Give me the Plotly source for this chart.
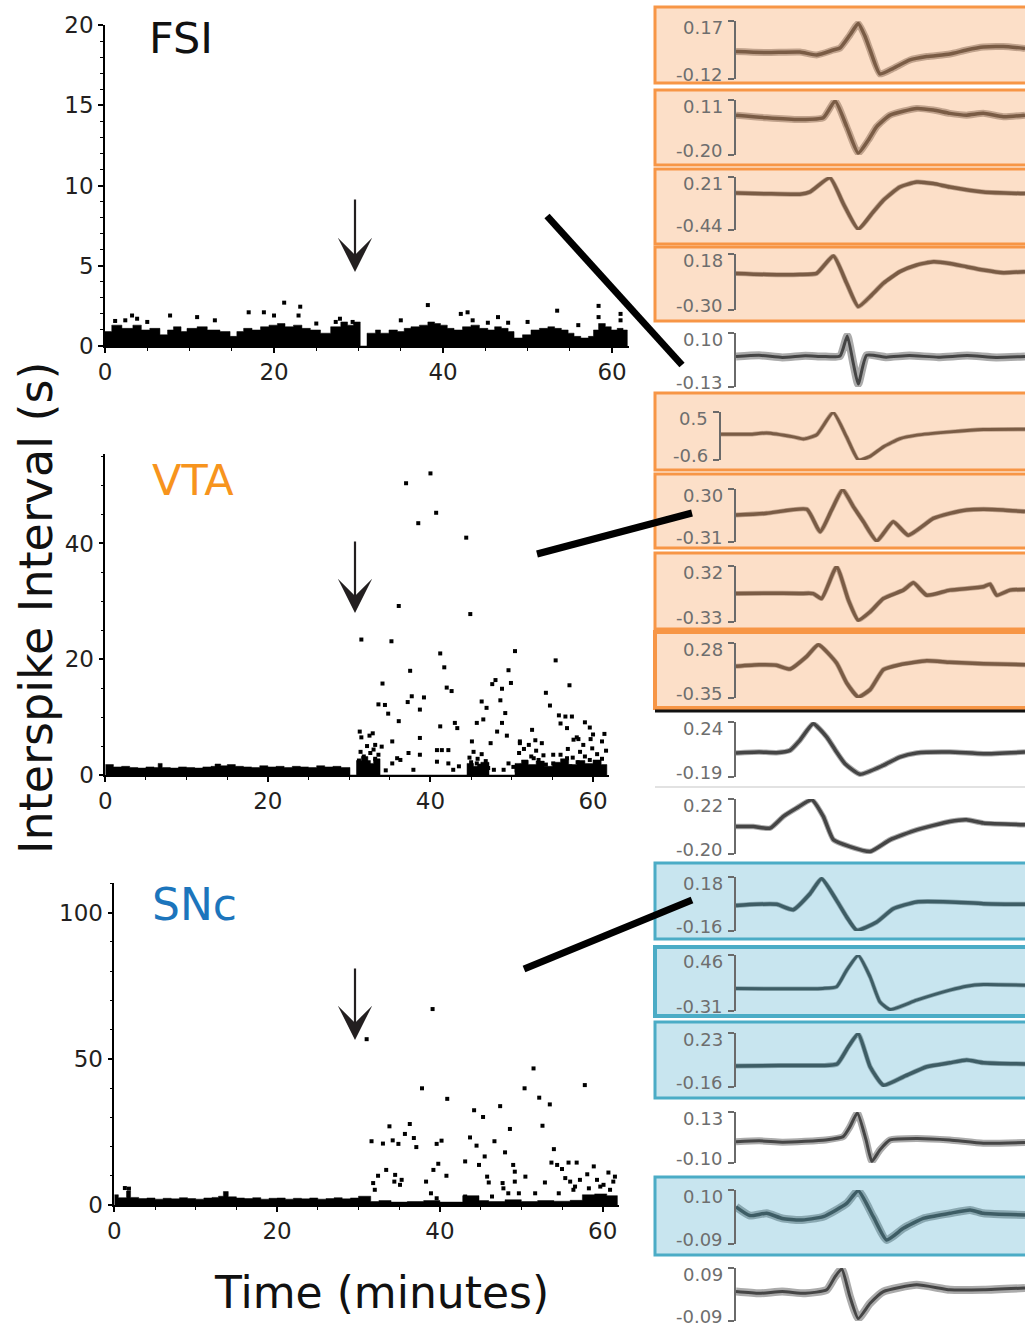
import plotly.graph_objects as go

W, H = 1025, 1328

# ------------------------------------------------------------------
# Interspike-interval data (time in minutes, ISI in seconds)
# ------------------------------------------------------------------
# FSI: dense band (upper envelope) + outlying spikes
FSI_BAND_MIN = [0, 0.8, 2.0, 3.3, 4.3, 5.3, 6.5, 7.4, 8.1, 9.0,
                9.7, 10.9, 12.1, 13.6, 14.8, 15.6, 16.4, 17.4, 18.4, 19.4,
                20.4, 21.3, 22.3, 23.3, 24.3, 25.5, 26.7, 27.9, 28.7, 29.4,
                30.2, 31.0, 32.0, 32.6, 33.6, 34.6, 35.4, 36.2, 37.2, 38.2,
                39.0, 39.7, 40.5, 41.3, 42.3, 43.3, 44.3, 45.3, 46.1, 46.9,
                47.7, 48.4, 49.4, 50.4, 51.4, 52.4, 53.2, 54.0, 54.8, 55.5,
                56.3, 57.2, 57.8, 58.4, 59.2, 59.9, 60.6, 61.3, 61.8]
FSI_BAND_ISI = [0.9, 1.3, 1.1, 1.3, 1.0, 1.1, 0.7, 1.0, 1.2, 0.9,
                1.1, 1.2, 1.0, 0.9, 0.6, 0.9, 1.1, 1.0, 1.2, 1.3,
                1.4, 1.2, 1.3, 1.1, 1.0, 0.8, 1.2, 1.5, 1.3, 1.5,
                0.0, 0.8, 1.0, 0.8, 1.0, 0.9, 1.1, 1.2, 1.3, 1.5,
                1.4, 1.3, 1.1, 1.0, 1.2, 1.3, 1.1, 1.0, 1.2, 1.1,
                0.9, 0.5, 0.7, 1.0, 1.1, 1.2, 1.1, 1.0, 0.8, 0.6,
                0.5, 0.6, 1.0, 1.4, 1.2, 1.0, 1.1, 1.0, 0.0]
FSI_DOT_MIN = [1.2, 2.4, 3.2, 3.8, 7.7, 10.9, 17.0, 18.8, 20.0, 21.2,
               22.9, 23.1, 27.3, 27.8, 29.3, 38.2, 42.1, 42.9, 43.5, 45.3,
               46.5, 47.7, 53.5, 58.4, 58.4, 61.0, 61.0, 5.0, 13.0, 25.0,
               35.0, 50.0, 56.0]
FSI_DOT_ISI = [1.56, 1.6, 1.9, 1.7, 1.9, 1.8, 2.1, 2.1, 1.9, 2.7,
               1.9, 2.45, 1.5, 1.7, 1.5, 2.55, 2.0, 2.1, 1.6, 1.45,
               1.8, 1.45, 2.2, 2.5, 1.8, 2.0, 1.6, 1.5, 1.6, 1.4,
               1.6, 1.5, 1.3]

# VTA
VTA_BAND_MIN = [0, 1, 2, 3, 4, 5, 6, 6.5, 7, 8,
                9, 10, 11, 12, 13, 13.5, 14.2, 15, 16, 17,
                18, 19, 20, 21, 22, 23, 24, 25, 26, 27,
                28, 29, 30.1, 30.9, 31.5, 32.3, 33.0, 33.8, 44.5, 45.3,
                46.2, 47.2, 50.4, 51.2, 52.0, 53.0, 54.0, 55.0, 56.0, 57.0,
                58, 59, 60, 61, 61.7]
VTA_BAND_ISI = [1.8, 1.4, 1.5, 1.3, 1.2, 1.4, 1.3, 2.0, 1.3, 1.2,
                1.4, 1.3, 1.2, 1.4, 1.5, 1.9, 1.6, 1.8, 1.5, 1.4,
                1.3, 1.6, 1.4, 1.5, 1.3, 1.5, 1.4, 1.3, 1.6, 1.4,
                1.5, 1.3, 0.0, 2.5, 3.2, 2.0, 2.8, 0.0, 2.0, 1.5,
                2.2, 0.0, 2.0, 2.6, 1.8, 2.4, 1.5, 2.2, 2.8, 1.8,
                2.5, 2.0, 2.6, 1.8, 0.0]
VTA_DOT_MIN = [31.1, 37.0, 40.0, 40.7, 38.5, 44.4, 36.1, 44.9, 31.5, 35.2,
               41.2, 50.4, 55.4, 41.7, 37.5, 49.6, 34.1, 48.0, 47.6, 48.8,
               49.9, 42.0, 42.6, 57.1, 54.2, 37.7, 39.2, 37.2, 33.6, 34.4,
               38.7, 46.3, 46.9, 48.6, 54.7, 34.8, 49.2, 55.8, 56.6, 57.4,
               36.1, 46.5, 45.7, 41.2, 43.0, 43.3, 48.8, 56.0, 59.0, 59.6,
               52.5, 56.8, 61.4, 38.7, 49.4, 48.2, 35.3, 33.2, 34.0, 47.4,
               45.1, 51.0, 52.1, 53.7, 57.6, 58.2, 58.8, 59.7, 61.1, 37.3,
               36.3, 38.7, 40.8, 41.4, 42.2, 40.8, 42.2, 42.8, 37.9, 35.3,
               35.9, 45.7, 47.8, 49.0, 50.2, 52.7, 55.1, 55.1, 56.8]
VTA_DOT_ISI = [55.7, 50.4, 52.1, 45.3, 43.5, 41.0, 29.2, 27.8, 23.4, 23.1,
               21.0, 21.4, 19.8, 18.6, 18.0, 18.1, 15.8, 16.4, 15.7, 14.9,
               15.9, 15.1, 14.5, 15.5, 14.2, 13.6, 13.4, 12.6, 12.2, 12.1,
               11.3, 12.7, 11.6, 12.9, 12.0, 10.6, 10.7, 10.3, 10.1, 10.1,
               9.3, 9.6, 9.0, 8.4, 9.0, 8.1, 9.0, 8.9, 9.1, 8.2,
               7.8, 8.1, 7.1, 6.4, 6.8, 7.5, 5.8, 5.2, 4.9, 5.5,
               5.8, 5.8, 5.2, 5.5, 6.1, 6.2, 5.2, 6.2, 5.8, 3.8,
               2.6, 3.5, 4.3, 4.3, 4.3, 2.3, 2.0, 0.9, 0.9, 2.0,
               2.9, 2.0, 0.9, 0.9, 1.4, 2.9, 3.5, 2.0, 2.9]
VTA_CLUSTER_MIN = [31.2, 31.4, 31.6, 31.8, 32.0, 32.2, 32.4, 32.6, 32.8, 33.0,
                   33.2, 33.4, 33.6, 31.5, 32.5, 31.3, 32.9, 44.8, 45.0, 45.3,
                   45.8, 46.0, 46.3, 46.8, 47.1, 50.6, 50.9, 51.2, 51.5, 51.8,
                   52.4, 53.0, 53.3, 53.9, 54.2, 51.0, 52.9, 56.0, 56.6, 56.9,
                   57.2, 57.5, 58.1, 58.4, 59.0, 59.6, 59.9, 60.2, 60.5, 61.1,
                   61.6, 58.0, 60.0, 34.5, 43.5, 49.6]
VTA_CLUSTER_ISI = [2.5, 4.0, 1.5, 3.2, 0.8, 5.0, 2.2, 3.8, 1.2, 4.4,
                   2.8, 0.6, 3.5, 6.5, 6.8, 7.5, 7.2, 3.0, 2.2, 4.0,
                   2.8, 1.6, 3.6, 2.4, 1.2, 0.8, 3.8, 1.6, 4.5, 2.2,
                   3.2, 4.2, 2.6, 3.4, 1.8, 5.5, 6.0, 3.5, 2.4, 4.5,
                   1.5, 3.0, 2.2, 4.0, 3.2, 2.6, 4.6, 1.4, 3.6, 2.8,
                   4.2, 6.5, 7.0, 0.8, 1.5, 2.0]

# SNc
SNC_BAND_MIN = [0, 0.5, 1.5, 2.0, 3, 4, 5, 6, 7, 8,
                9, 10, 11, 12, 12.8, 13.4, 14, 15, 16, 17,
                18, 19, 20, 21, 22, 23, 24, 25, 26, 27,
                28, 29, 30, 31.5, 32.5, 34, 36, 38, 40, 42.8,
                44.8, 46, 48, 50, 52, 54, 56, 57.5, 59, 60.5,
                61.8]
SNC_BAND_ISI = [3.5, 2.5, 4.8, 2.6, 2.2, 2.4, 2.0, 2.3, 2.1, 2.5,
                2.2, 2.0, 2.4, 2.6, 3.0, 4.6, 2.8, 2.4, 2.2, 2.5,
                2.0, 2.3, 2.4, 2.0, 2.3, 2.1, 2.4, 2.0, 2.2, 2.5,
                2.1, 2.4, 3.0, 1.2, 1.5, 1.0, 1.2, 1.5, 1.0, 3.2,
                1.5, 1.2, 1.8, 1.2, 1.5, 1.3, 1.6, 3.5, 3.8, 3.2,
                0.0]
SNC_DOT_MIN = [42.8, 39.1, 31.0, 51.5, 37.8, 50.4, 57.8, 40.9, 52.2, 53.5,
               47.4, 44.2, 45.3, 36.3, 33.8, 48.6, 52.6, 35.7, 43.7, 31.6,
               33.0, 34.2, 34.9, 36.8, 37.1, 39.6, 40.2, 46.7, 44.5, 54.0,
               48.0, 45.5, 43.1, 44.8, 39.8, 33.4, 39.2, 40.8, 32.4, 49.0,
               49.2, 53.7, 54.4, 55.0, 55.8, 56.8, 58.1, 58.9, 60.7, 61.5,
               50.5, 52.9, 49.2, 45.8, 46.0, 47.7, 47.8, 34.5, 34.4, 35.1,
               35.3, 31.8, 32.0, 38.3, 38.9, 39.6, 43.1, 46.4, 48.4, 49.7,
               51.7, 54.6, 55.4, 56.0, 56.6, 57.2, 58.3, 59.3, 60.1, 60.9,
               61.3, 59.7, 56.4, 1.3, 1.8]
SNC_DOT_ISI = [110.5, 67.0, 56.7, 46.7, 39.9, 39.9, 41.0, 36.3, 36.7, 34.4,
               33.8, 32.4, 30.1, 27.7, 26.9, 26.0, 27.1, 24.3, 23.1, 21.8,
               21.0, 22.1, 20.9, 22.9, 19.8, 20.9, 22.0, 21.8, 20.3, 19.1,
               18.0, 16.6, 14.9, 13.7, 14.1, 12.0, 12.0, 10.0, 10.0, 13.7,
               11.4, 14.5, 13.7, 12.3, 14.5, 14.5, 10.5, 13.2, 11.1, 9.7,
               9.7, 7.7, 8.0, 9.7, 7.7, 7.5, 5.7, 10.3, 8.0, 6.9,
               8.6, 7.5, 5.2, 8.0, 4.0, 2.3, 2.9, 2.9, 4.0, 4.0,
               4.0, 4.0, 9.2, 8.0, 6.3, 8.6, 5.7, 8.6, 6.9, 5.2,
               8.0, 6.3, 5.2, 5.8, 5.6]

# ------------------------------------------------------------------
# Spike waveforms (sample position 0-100, amplitude in scale units)
# ------------------------------------------------------------------
WAVE_01_X = [0, 10.6, 22.1, 27.9, 33.7, 36, 39.4, 42.3, 44.6, 46.4, 49.8, 54.4, 60.2, 66, 74, 79.8, 85.6, 92.5, 100]
WAVE_01_Y = [0.017, 0.012, 0.015, 0.0, 0.025, 0.035, 0.1, 0.158, 0.095, 0.025, -0.095, -0.067, -0.025, -0.008, 0.005, 0.025, 0.04, 0.042, 0.033]
WAVE_02_X = [0, 10.6, 22.1, 30.2, 34.3, 38.3, 42.3, 45.8, 48.7, 53.3, 62.5, 68.3, 74, 79.8, 85.6, 92.5, 100]
WAVE_02_Y = [0.025, 0.01, 0.0, 0.01, 0.105, -0.04, -0.19, -0.116, -0.04, 0.025, 0.063, 0.054, 0.035, 0.025, 0.035, 0.016, 0.025]
WAVE_03_X = [0, 10.6, 22.1, 25.6, 32.5, 37.1, 42.3, 47, 51, 56.7, 62.5, 68.3, 74, 85.6, 100]
WAVE_03_Y = [0.015, 0.005, 0.0, 0.027, 0.2, -0.115, -0.43, -0.24, -0.074, 0.088, 0.149, 0.13, 0.088, 0.027, 0.007]
WAVE_04_X = [0, 10.6, 22.1, 27.9, 33.7, 38.3, 42.3, 47, 51, 56.7, 62.5, 68.3, 74, 79.8, 85.6, 92.5, 100]
WAVE_04_Y = [0.014, 0.005, 0.005, 0.014, 0.163, -0.071, -0.271, -0.171, -0.071, 0.029, 0.086, 0.114, 0.1, 0.071, 0.043, 0.02, 0.029]
WAVE_05_X = [0, 8, 16, 24, 30, 36, 38.5, 40.6, 42.3, 45.2, 52, 60, 70, 80, 90, 100]
WAVE_05_Y = [0.0, 0.005, -0.004, 0.003, 0.0, 0.002, 0.088, -0.03, -0.118, 0.005, -0.003, 0.004, -0.003, 0.004, -0.004, 0.0]
WAVE_06_X = [0, 9.5, 15, 23.8, 27.1, 31.5, 36.9, 41.3, 45.2, 49, 53.4, 58.9, 64.4, 75.3, 86.3, 100]
WAVE_06_Y = [-0.01, -0.01, 0.02, -0.07, -0.12, -0.02, 0.49, -0.07, -0.6, -0.52, -0.3, -0.11, -0.03, 0.045, 0.1, 0.105]
WAVE_07_X = [0, 10.6, 24.5, 29.1, 33.1, 36.9, 40.6, 44.1, 48.7, 54.4, 59.6, 68.3, 74, 79.8, 85.6, 92.5, 100]
WAVE_07_Y = [0.0, 0.02, 0.067, -0.193, 0.06, 0.292, 0.098, -0.077, -0.298, -0.077, -0.232, -0.038, 0.02, 0.059, 0.067, 0.059, 0.04]
WAVE_08_X = [0, 10.6, 22.1, 26.7, 29.6, 34.8, 38.9, 42.3, 46.4, 51, 57.9, 61.4, 66, 74, 85.6, 87.9, 90.2, 94.8, 100]
WAVE_08_Y = [0.0, 0.005, 0.001, 0.0, -0.058, 0.312, -0.077, -0.31, -0.213, -0.058, 0.04, 0.125, -0.019, 0.04, 0.079, 0.11, -0.019, 0.04, 0.048]
WAVE_09_X = [0, 8, 14, 18.7, 24.5, 28.5, 34.8, 38.3, 42.3, 46.4, 51, 56.7, 66, 74, 85.6, 100]
WAVE_09_Y = [0.013, 0.03, 0.025, -0.018, 0.127, 0.261, 0.051, -0.178, -0.339, -0.255, -0.025, 0.032, 0.078, 0.059, 0.043, 0.032]
WAVE_10_X = [0, 8, 14, 18.7, 22.1, 26.7, 31.4, 34.8, 37.7, 42.9, 51, 56.7, 62.5, 74, 85.6, 100]
WAVE_10_Y = [-0.002, 0.005, 0.0, 0.018, 0.097, 0.227, 0.123, 0.005, -0.086, -0.169, -0.099, -0.034, -0.002, 0.005, -0.008, 0.005]
WAVE_11_X = [0, 6, 11.8, 16.4, 21, 26.2, 30.2, 33.7, 39.4, 46.4, 53.3, 62.5, 74, 79.8, 85.6, 100]
WAVE_11_Y = [0.01, 0.01, -0.003, 0.087, 0.151, 0.215, 0.087, -0.092, -0.144, -0.182, -0.092, -0.016, 0.048, 0.061, 0.036, 0.023]
WAVE_12_X = [0, 7, 14.1, 19.8, 25.6, 29.6, 34.8, 38.3, 41.8, 48.7, 54.4, 62.5, 74, 85.6, 100]
WAVE_12_Y = [0.0, 0.008, 0.008, -0.026, 0.075, 0.17, 0.033, -0.072, -0.156, -0.104, -0.02, 0.023, 0.023, 0.012, 0.008]
WAVE_13_X = [0, 15, 30, 34.8, 38.3, 42.3, 46.4, 49.8, 53.3, 62.5, 74, 79.8, 85.6, 100]
WAVE_13_Y = [0.0, -0.005, 0.0, 0.022, 0.253, 0.455, 0.16, -0.185, -0.291, -0.162, -0.024, 0.031, 0.054, 0.045]
WAVE_14_X = [0, 15, 30, 35, 38.9, 42.3, 46.4, 51, 57.9, 66, 74, 79.8, 85.6, 100]
WAVE_14_Y = [-0.009, -0.005, -0.005, 0.006, 0.132, 0.225, -0.014, -0.148, -0.087, -0.014, 0.015, 0.035, 0.015, 0.006]
WAVE_15_X = [0, 8, 16, 24, 31, 37.1, 39.4, 42, 45, 47, 49.8, 53.3, 62.5, 74, 85.6, 100]
WAVE_15_Y = [-0.004, 0.0, -0.006, -0.002, 0.004, 0.019, 0.063, 0.126, 0.004, -0.093, -0.041, 0.004, 0.011, 0.004, -0.011, -0.008]
WAVE_16_X = [0, 4.8, 10.6, 16, 22.1, 30.2, 38.3, 42.3, 47.5, 52.1, 57.9, 64.8, 74, 81, 85.6, 100]
WAVE_16_Y = [0.041, 0.01, 0.018, 0.0, -0.006, 0.006, 0.053, 0.098, 0.006, -0.076, -0.035, 0.0, 0.018, 0.03, 0.018, 0.012]
WAVE_17_X = [0, 8, 16, 24, 31.4, 34.3, 36.6, 39.4, 42.3, 46.4, 51, 62.5, 74, 85.6, 100]
WAVE_17_Y = [0.01, 0.004, 0.01, 0.004, 0.016, 0.061, 0.087, -0.007, -0.082, -0.03, 0.01, 0.033, 0.016, 0.016, 0.022]

SCALE_TOP = [0.17, 0.11, 0.21, 0.18, 0.10, 0.5, 0.30, 0.32, 0.28, 0.24, 0.22, 0.18, 0.46, 0.23, 0.13, 0.10, 0.09]
SCALE_BOTTOM = [-0.12, -0.20, -0.44, -0.30, -0.13, -0.6, -0.31, -0.33, -0.35, -0.19, -0.20, -0.16, -0.31, -0.16, -0.10, -0.09, -0.09]
SCALE_TOP_TEXT = ["0.17", "0.11", "0.21", "0.18", "0.10", "0.5", "0.30", "0.32", "0.28", "0.24", "0.22", "0.18", "0.46", "0.23", "0.13", "0.10", "0.09"]
SCALE_BOTTOM_TEXT = ["-0.12", "-0.20", "-0.44", "-0.30", "-0.13", "-0.6", "-0.31", "-0.33", "-0.35", "-0.19", "-0.20", "-0.16", "-0.31", "-0.16", "-0.10", "-0.09", "-0.09"]
UNIT_GROUP = ["VTA", "VTA", "VTA", "VTA", "none", "VTA", "VTA", "VTA", "VTA", "none", "none", "SNc", "SNc", "SNc", "none", "SNc", "none"]

WAVES_X = [WAVE_01_X, WAVE_02_X, WAVE_03_X, WAVE_04_X, WAVE_05_X, WAVE_06_X, WAVE_07_X, WAVE_08_X, WAVE_09_X,
           WAVE_10_X, WAVE_11_X, WAVE_12_X, WAVE_13_X, WAVE_14_X, WAVE_15_X, WAVE_16_X, WAVE_17_X]
WAVES_Y = [WAVE_01_Y, WAVE_02_Y, WAVE_03_Y, WAVE_04_Y, WAVE_05_Y, WAVE_06_Y, WAVE_07_Y, WAVE_08_Y, WAVE_09_Y,
           WAVE_10_Y, WAVE_11_Y, WAVE_12_Y, WAVE_13_Y, WAVE_14_Y, WAVE_15_Y, WAVE_16_Y, WAVE_17_Y]

# ------------------------------------------------------------------
# Layout / style (pixel geometry)
# ------------------------------------------------------------------
def fx(p):
    return p / W


def fy(p):
    return 1 - p / H


TICK_FONT = dict(family="DejaVu Sans", size=23, color="#231F20")
BIG_FONT = "DejaVu Sans"

ISI_PANELS = [
    dict(x0=105, x1=629, ybot=346, ytop=25, xr=[0, 62], yr=[0, 20], ydt=5, yminor=1,
         band=(FSI_BAND_MIN, FSI_BAND_ISI), dots=[(FSI_DOT_MIN, FSI_DOT_ISI)]),
    dict(x0=105.3, x1=609.3, ybot=775, ytop=454.3, xr=[0, 62], yr=[0, 55.4], ydt=20, yminor=5,
         band=(VTA_BAND_MIN, VTA_BAND_ISI), dots=[(VTA_DOT_MIN, VTA_DOT_ISI), (VTA_CLUSTER_MIN, VTA_CLUSTER_ISI)]),
    dict(x0=114.3, x1=619, ybot=1205, ytop=883.3, xr=[0, 62], yr=[0, 110], ydt=50, yminor=10,
         band=(SNC_BAND_MIN, SNC_BAND_ISI), dots=[(SNC_DOT_MIN, SNC_DOT_ISI)]),
]

BOX_PX = [(7, 83, 3), (90, 165, 3), (169, 244, 3), (247, 321, 3), None, (393, 470, 3), (474, 548, 3),
          (553, 629, 3), (632, 708, 4), None, None, (863, 939, 3), (947, 1016, 4), (1022, 1098, 3),
          None, (1177, 1255, 3), None]
BRACKET_PX = [(21, 79), (100, 155), (177, 230), (254, 310), (333, 387), (412, 460), (489, 542), (566, 622),
              (643, 698), (722, 777), (799, 854), (877, 931), (955, 1011), (1033, 1087), (1112, 1163),
              (1190, 1244), (1268, 1321)]
WAVE_LEFT_PX = [736, 736, 736, 736, 736, 721, 736, 736, 736, 736, 736, 736, 736, 736, 736, 736, 736]
LINE_W = [3.5, 3.5, 3.5, 3.5, 3.0, 3.0, 3.5, 3.5, 3.5, 3.5, 3.5, 3.5, 3.0, 3.5, 3.0, 3.5, 3.0]
HALO_W = [7, 7, 5, 5, 8, 4.5, 5, 5, 5, 5.5, 5.5, 5, 4.5, 5, 7, 8, 8]
GROUP_STYLE = {
    "VTA": dict(fill="#FCDFC8", border="#F79646", wave="#7A5C45"),
    "SNc": dict(fill="#C8E5EF", border="#4BACC6", wave="#3E5D65"),
    "none": dict(fill=None, border=None, wave="#454545"),
}
LABEL_FONT = dict(family="DejaVu Sans", size=18, color="#6e6e6e")

fig = go.Figure()
layout_axes = {}
annotations = []

# ---- ISI panels ----
for i, p in enumerate(ISI_PANELS):
    n = i + 1
    xa = "x" if n == 1 else f"x{n}"
    ya = "y" if n == 1 else f"y{n}"
    bx, by = p["band"]
    fig.add_trace(go.Scatter(x=bx, y=by, mode="lines", line=dict(width=0.5, color="black", shape="hv"),
                             fill="tozeroy", fillcolor="black", xaxis=xa, yaxis=ya,
                             hoverinfo="skip", showlegend=False))
    for dx, dy in p["dots"]:
        fig.add_trace(go.Scatter(x=dx, y=dy, mode="markers", cliponaxis=False,
                                 marker=dict(symbol="square", size=4, color="black", line=dict(width=0)),
                                 xaxis=xa, yaxis=ya, showlegend=False))
    key_x = "xaxis" if n == 1 else f"xaxis{n}"
    key_y = "yaxis" if n == 1 else f"yaxis{n}"
    layout_axes[key_x] = dict(domain=[fx(p["x0"]), fx(p["x1"])], range=p["xr"], anchor=ya,
                              automargin=False,
                              tickmode="linear", tick0=0, dtick=20, ticks="outside", ticklen=5,
                              tickwidth=1.5, tickcolor="black",
                              minor=dict(dtick=5, ticks="outside", ticklen=3, tickcolor="black", tickwidth=1),
                              showline=True, linecolor="black", linewidth=1.5, showgrid=False,
                              zeroline=False, tickfont=TICK_FONT, fixedrange=True)
    layout_axes[key_y] = dict(domain=[fy(p["ybot"]), fy(p["ytop"])], range=p["yr"], anchor=xa,
                              automargin=False,
                              tickmode="linear", tick0=0, dtick=p["ydt"], ticks="outside", ticklen=5,
                              tickwidth=1.5, tickcolor="black",
                              minor=dict(dtick=p["yminor"], ticks="outside", ticklen=3, tickcolor="black", tickwidth=1),
                              showline=True, linecolor="black", linewidth=1.5, showgrid=False,
                              zeroline=False, tickfont=TICK_FONT, fixedrange=True)

# ---- waveform panels ----
shapes = []
for i in range(17):
    n = i + 4
    grp = GROUP_STYLE[UNIT_GROUP[i]]
    col = grp["wave"]
    r, g, b = int(col[1:3], 16), int(col[3:5], 16), int(col[5:7], 16)
    halo = f"rgba({r},{g},{b},0.45)"
    fig.add_trace(go.Scatter(x=WAVES_X[i], y=WAVES_Y[i], mode="lines",
                             line=dict(color=halo, width=HALO_W[i], shape="spline", smoothing=0.5),
                             xaxis=f"x{n}", yaxis=f"y{n}", hoverinfo="skip", showlegend=False))
    fig.add_trace(go.Scatter(x=WAVES_X[i], y=WAVES_Y[i], mode="lines",
                             line=dict(color=col, width=LINE_W[i], shape="spline", smoothing=0.5),
                             xaxis=f"x{n}", yaxis=f"y{n}", showlegend=False))
    top_px, bot_px = BRACKET_PX[i]
    lo, hi = SCALE_BOTTOM[i], SCALE_TOP[i]
    eps = (hi - lo) * 0.002
    layout_axes[f"xaxis{n}"] = dict(domain=[fx(WAVE_LEFT_PX[i]), 1.0], range=[0, 100], visible=False,
                                    anchor=f"y{n}", fixedrange=True, automargin=False)
    layout_axes[f"yaxis{n}"] = dict(domain=[fy(bot_px), fy(top_px)], range=[lo - eps, hi + eps],
                                    anchor=f"x{n}", tickmode="array", tickvals=[lo, hi],
                                    showticklabels=False, automargin=False,
                                    ticks="outside", ticklen=6, tickwidth=1.5, tickcolor="#6a6a6a",
                                    showline=True, linecolor="#6a6a6a", linewidth=1.5,
                                    showgrid=False, zeroline=False, fixedrange=True)
    # scale labels, anchored to the scale values on the panel's own y axis
    lab_x = fx(WAVE_LEFT_PX[i] - 11)
    annotations.append(dict(text=SCALE_TOP_TEXT[i], x=lab_x, y=hi, xref="paper", yref=f"y{n}",
                            yshift=-6, showarrow=False, xanchor="right", yanchor="middle", font=LABEL_FONT))
    annotations.append(dict(text=SCALE_BOTTOM_TEXT[i], x=lab_x, y=lo, xref="paper", yref=f"y{n}",
                            yshift=4, showarrow=False, xanchor="right", yanchor="middle", font=LABEL_FONT))
    box = BOX_PX[i]
    if box is not None and grp["fill"]:
        t, bt, lw = box
        shapes.append(dict(type="rect", xref="paper", yref="paper", x0=fx(655), x1=1.02,
                           y0=fy(bt), y1=fy(t), fillcolor=grp["fill"],
                           line=dict(color=grp["border"], width=lw), layer="below"))

# separators between panels
shapes.append(dict(type="line", xref="paper", yref="paper", x0=fx(655), x1=1.02, y0=fy(711), y1=fy(711),
                   line=dict(color="#111111", width=3), layer="below"))
shapes.append(dict(type="line", xref="paper", yref="paper", x0=fx(655), x1=1.02, y0=fy(787), y1=fy(787),
                   line=dict(color="#d8d8d8", width=1.5), layer="below"))

# connector lines from ISI plots to waveforms
CONNECTORS = [((547, 216), (682, 365)), ((537, 554), (692, 513)), ((524, 969), (692, 900))]
for (a, b) in CONNECTORS:
    shapes.append(dict(type="line", xref="paper", yref="paper", x0=fx(a[0]), y0=fy(a[1]),
                       x1=fx(b[0]), y1=fy(b[1]), line=dict(color="black", width=7), layer="above"))

annotations += [
    dict(text="FSI", x=fx(181), y=fy(38), xref="paper", yref="paper", showarrow=False,
         font=dict(family=BIG_FONT, size=43, color="#111111"), xanchor="center", yanchor="middle"),
    dict(text="VTA", x=fx(193), y=fy(480), xref="paper", yref="paper", showarrow=False,
         font=dict(family=BIG_FONT, size=43, color="#F7941D"), xanchor="center", yanchor="middle"),
    dict(text="SNc", x=fx(194), y=fy(904), xref="paper", yref="paper", showarrow=False,
         font=dict(family=BIG_FONT, size=44, color="#1C75BC"), xanchor="center", yanchor="middle"),
    dict(text="Interspike Interval (s)", x=fx(36), y=fy(608), xref="paper", yref="paper", showarrow=False,
         textangle=-90, font=dict(family=BIG_FONT, size=46, color="#111111"),
         xanchor="center", yanchor="middle"),
    dict(text="Time (minutes)", x=fx(381), y=fy(1292), xref="paper", yref="paper", showarrow=False,
         font=dict(family=BIG_FONT, size=44, color="#111111"), xanchor="center", yanchor="middle"),
]
# drug-injection arrows (x pixel, tip pixel, tail pixel)
ARROWS_PX = [(355, 272, 198), (355, 613, 540), (355, 1040, 967)]
for ax_px, tip, tail in ARROWS_PX:
    annotations.append(dict(text="", x=fx(ax_px), y=fy(tip), xref="paper", yref="paper",
                            ax=0, ay=-(tip - tail), showarrow=True, arrowhead=3, arrowsize=2.6,
                            arrowwidth=2.2, arrowcolor="#231F20", standoff=0))

fig.update_layout(
    template="none",
    width=W, height=H, autosize=False,
    margin=dict(l=0, r=0, t=0, b=0, pad=0, autoexpand=False),
    paper_bgcolor="white", plot_bgcolor="rgba(0,0,0,0)",
    showlegend=False, shapes=shapes, annotations=annotations,
    **layout_axes,
)

fig.write_html("out.html",
               post_script="document.body.style.margin='0px';document.body.style.padding='0px';")
